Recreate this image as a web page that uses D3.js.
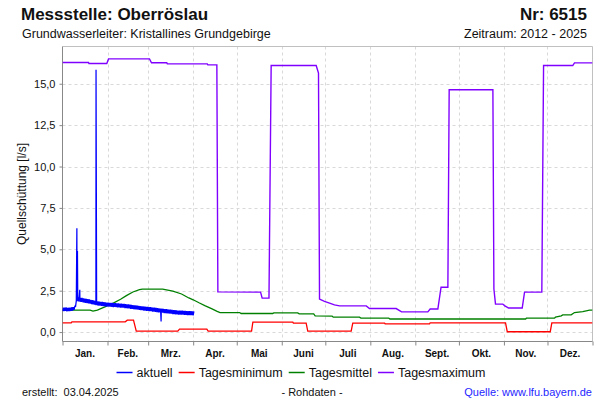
<!DOCTYPE html>
<html><head><meta charset="utf-8">
<script src="https://cdn.jsdelivr.net/npm/d3@7"></script>
<style>body{margin:0;background:#fff} svg{display:block;font-family:"Liberation Sans",Arial,sans-serif}</style>
</head><body><svg id="c" width="600" height="400"></svg>
<script>
const months = ["Jan.","Feb.","Mrz.","Apr.","Mai","Juni","Juli","Aug.","Sept.","Okt.","Nov.","Dez."];
const monthDays = [31,28,31,30,31,30,31,31,30,31,30,31];
const yTicks = [0,2.5,5,7.5,10,12.5,15];

// aktuell: daily lower / upper edge of the raw-data band (day 0 = 1 Jan)
const aktuellLow = [1.27,1.26,1.28,1.25,1.27,1.26,1.28,1.29,1.34,1.55,
 1.86,1.85,1.83,1.82,1.80,1.78,1.76,1.75,1.73,1.71,1.69,1.67,1.65,
 1.63,1.61,1.60,1.59,1.58,1.57,1.56,
 1.54,1.55,1.53,1.54,1.52,1.51,1.52,1.50,1.49,1.49,
 1.48,1.47,1.47,1.45,1.45,1.43,1.43,1.40,1.40,1.38,
 1.37,1.37,1.35,1.34,1.32,1.32,1.30,1.30,1.28,1.28,
 1.26,1.26,1.24,1.24,1.22,1.21,1.19,1.19,1.17,1.17,
 1.15,1.15,1.13,1.13,1.11,1.11,1.09,1.09,1.07,1.07,
 1.06,1.06,1.05,1.05,1.04,1.04,1.03,1.03,1.02,1.02,1.01];
const aktuellHigh = [1.48,1.47,1.49,1.46,1.48,1.47,1.50,1.50,1.56,1.88,
 2.10,2.09,2.07,2.06,2.04,2.02,2.00,1.99,1.97,1.95,1.93,1.91,1.89,
 1.87,1.85,1.84,1.83,1.82,1.81,1.80,
 1.78,1.78,1.77,1.77,1.76,1.75,1.75,1.74,1.73,1.72,
 1.72,1.71,1.70,1.69,1.68,1.67,1.66,1.64,1.63,1.62,
 1.61,1.60,1.59,1.57,1.56,1.55,1.54,1.53,1.52,1.51,
 1.50,1.49,1.48,1.47,1.46,1.44,1.43,1.42,1.41,1.40,
 1.39,1.38,1.37,1.36,1.35,1.34,1.33,1.32,1.31,1.30,
 1.30,1.29,1.29,1.28,1.28,1.27,1.27,1.26,1.26,1.25,1.25];
const aktuellSpikes = [[9.9,6.27],[10.3,4.9],[11.9,2.55],[23.1,15.84],[67.9,0.64]];

const tagesmaximum = [[0,16.28],[17.9,16.28],[18.2,16.22],[30.5,16.22],[31.7,16.5],[59.9,16.5],[61.3,16.27],
 [71.8,16.27],[72.2,16.2],[99.7,16.2],[100.1,16.14],[106.3,16.14],[107,2.43],[136.4,2.41],[137.5,2.05],
 [142.2,2.05],[143.7,16.1],[174.7,16.1],[176.3,15.64],[177,1.99],[180.4,1.85],[183.9,1.75],[187.3,1.64],
 [190.8,1.58],[209.2,1.58],[211.4,1.42],[229.8,1.42],[233.5,1.22],[251.6,1.22],[253.2,1.39],[258.5,1.39],
 [260.7,2.71],[265.4,2.71],[266.3,14.64],[296.4,14.64],[297.1,2.6],[298.2,1.69],[303.2,1.69],[304.4,1.6],
 [307.2,1.45],[316.6,1.45],[318.2,2.41],[330.1,2.41],[331.3,16.1],[351.4,16.1],[352.6,16.26],[365,16.26]];

const tagesminimum = [[0,0.55],[6,0.55],[6.5,0.62],[43.2,0.62],[44.6,0.72],[48.9,0.72],[50.8,0.06],[79.4,0.06],
 [80.6,0.18],[99.4,0.18],[100.3,0.06],[130.2,0.06],[131.1,0.6],[158.6,0.6],[159,0.54],[167.8,0.54],[168.9,0.06],
 [198.8,0.06],[199.9,0.54],[221.8,0.54],[222.2,0.5],[252.8,0.5],[253.2,0.56],[305.1,0.56],[306.3,0.02],
 [335.9,0.02],[337,0.56],[365,0.56]];

const tagesmittel = [[0,1.33],[19,1.33],[21,1.27],[24,1.33],[30,1.55],[35,1.75],[40,1.98],[44,2.2],[48.5,2.42],
 [53,2.56],[55,2.59],[69,2.59],[76,2.47],[82,2.3],[87,2.06],[90,1.95],[94,1.77],[98,1.6],[103,1.4],[106.5,1.25],
 [108.5,1.18],[122,1.18],[123,1.12],[144.8,1.12],[145.5,1.16],[162,1.16],[163,1.1],[173,1.1],[174,0.98],
 [185.7,0.96],[186.5,0.9],[204.5,0.9],[205.5,0.84],[224.7,0.84],[225.5,0.79],[318.9,0.79],[319.5,0.84],
 [338.8,0.84],[339.5,0.9],[343.5,0.98],[344.5,1.04],[350.3,1.04],[352.6,1.18],[358.3,1.24],[363,1.33],[365,1.33]];

const svg = d3.select("#c");
const L = 62.5, R = 592.5, T = 46.5, B = 341.5;
const x = d3.scaleLinear().domain([0,365]).range([L,R]);
const y = d3.scaleLinear().domain([-0.57,17.25]).range([B,T]);
const monthStarts = d3.cumsum([0].concat(monthDays)); // 0..365

// gridlines
const grid = svg.append("g").attr("stroke","#d9d9d9").attr("stroke-dasharray","3,3").attr("stroke-width",1);
yTicks.forEach(v => grid.append("line").attr("x1",L).attr("x2",R).attr("y1",Math.round(y(v))+0.5).attr("y2",Math.round(y(v))+0.5));
Array.from(monthStarts).slice(1,12).forEach(d => grid.append("line").attr("x1",Math.round(x(d))+0.5).attr("x2",Math.round(x(d))+0.5).attr("y1",T).attr("y2",B));

// frame
svg.append("line").attr("x1",L).attr("x2",R).attr("y1",T).attr("y2",T).attr("stroke","#c0c0c0");
svg.append("line").attr("x1",R).attr("x2",R).attr("y1",T).attr("y2",B).attr("stroke","#c0c0c0");

// axes
const yAxis = d3.axisLeft(y).tickValues(yTicks).tickSize(3).tickPadding(4)
  .tickFormat(v => d3.format(".1f")(v).replace(".",","));
const gy = svg.append("g").attr("transform",`translate(${L},0)`).call(yAxis);
gy.select(".domain").attr("d",`M0,${T}V${B}`).attr("stroke","#888");
gy.selectAll(".tick line").attr("stroke","#888");
gy.selectAll(".tick text").attr("font-size",11).attr("fill","#111").attr("font-family","Liberation Sans, Arial, sans-serif");

const xAxis = d3.axisBottom(x).tickValues(Array.from(monthStarts)).tickSize(4).tickFormat("");
const gx = svg.append("g").attr("transform",`translate(0,${B})`).call(xAxis);
gx.select(".domain").attr("d",`M${L},0H${R}`).attr("stroke","#888");
gx.selectAll(".tick line").attr("stroke","#888");
svg.append("g").selectAll("text").data(months).join("text")
  .attr("x",(m,i)=>x((monthStarts[i]+monthStarts[i+1])/2)).attr("y",356.5)
  .attr("text-anchor","middle").attr("font-size",10).attr("font-weight","bold").attr("fill","#111").text(d=>d);

// series
svg.append("clipPath").attr("id","pc").append("rect").attr("x",L).attr("y",T).attr("width",R-L).attr("height",B-T);
const line = d3.line().x(d=>x(d[0])).y(d=>y(d[1]));
const plot = svg.append("g").attr("clip-path","url(#pc)");
plot.append("path").datum(tagesmaximum).attr("d",line).attr("fill","none").attr("stroke","#8000ff").attr("stroke-width",1.4);
plot.append("path").datum(tagesmittel).attr("d",line).attr("fill","none").attr("stroke","#008000").attr("stroke-width",1.3);
plot.append("path").datum(tagesminimum).attr("d",line).attr("fill","none").attr("stroke","#ff0000").attr("stroke-width",1.3);
const akt = [];
aktuellLow.forEach((v,i)=>{ akt.push([i,v]); akt.push([i+0.5,aktuellHigh[i]]); });
aktuellSpikes.forEach(s=>akt.push(s));
akt.sort((a,b)=>a[0]-b[0]);
plot.append("path").datum(akt).attr("d",line).attr("fill","none").attr("stroke","#0000ff").attr("stroke-width",1.25);

// titles
svg.append("text").attr("x",21).attr("y",20).attr("font-size",17).attr("font-weight","bold").attr("fill","#111").text("Messstelle: Oberröslau");
svg.append("text").attr("x",587).attr("y",20).attr("text-anchor","end").attr("font-size",17).attr("font-weight","bold").attr("fill","#111").text("Nr: 6515");
svg.append("text").attr("x",22).attr("y",37.5).attr("font-size",12.5).attr("fill","#111").text("Grundwasserleiter: Kristallines Grundgebirge");
svg.append("text").attr("x",587).attr("y",37.5).attr("text-anchor","end").attr("font-size",12.5).attr("fill","#111").text("Zeitraum: 2012 - 2025");
svg.append("text").attr("transform","translate(22,194) rotate(-90)").attr("dy","0.35em").attr("text-anchor","middle")
  .attr("font-size",12).attr("fill","#111").text("Quellschüttung [l/s]");

// legend (laid out sequentially, centred)
const legendNames = ["aktuell","Tagesminimum","Tagesmittel","Tagesmaximum"];
const legendColors = ["#0000ff","#ff0000","#008000","#8000ff"];
const lg = svg.append("g");
let cx = 0;
legendNames.forEach((n,i)=>{
  lg.append("line").attr("x1",cx).attr("x2",cx+16).attr("y1",372.5).attr("y2",372.5).attr("stroke",legendColors[i]).attr("stroke-width",1.5);
  const t = lg.append("text").attr("x",cx+20).attr("y",377).attr("font-size",12.5).attr("fill","#111").text(n);
  cx += 20 + t.node().getComputedTextLength() + 6;
});
const lw = cx - 6;
lg.attr("transform",`translate(${(115.5+486.5)/2 - lw/2},0)`);

// footer
svg.append("text").attr("x",22).attr("y",395.5).attr("font-size",11).attr("fill","#111").style("white-space","pre").text("erstellt:  03.04.2025");
svg.append("text").attr("x",312).attr("y",395.5).attr("text-anchor","middle").attr("font-size",11).attr("fill","#111").text("- Rohdaten -");
svg.append("text").attr("x",592).attr("y",395.5).attr("text-anchor","end").attr("font-size",11).attr("fill","#1f1fff").text("Quelle: www.lfu.bayern.de");
</script></body></html>
